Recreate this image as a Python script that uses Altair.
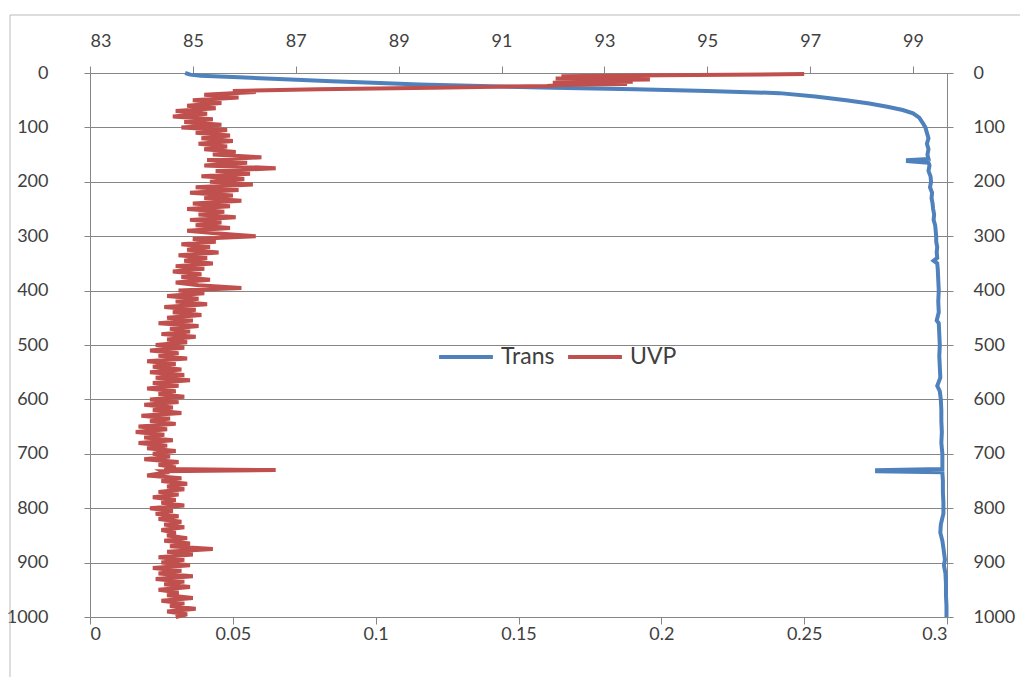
import altair as alt
import pandas as pd

# ---------------- data ----------------
trans_depth = [0, 3, 5, 8, 12, 15, 18, 21, 24, 27, 30, 33, 37, 43, 50, 56, 62, 68, 74, 82,
               92, 100, 110, 120, 130, 140, 150, 158, 160, 162, 165, 170, 180, 190, 200, 210,
               220, 230, 240, 250, 260, 270, 280, 290, 300, 310, 320, 330, 340, 345, 350, 360,
               380, 400, 420, 440, 455, 460, 480, 500, 520, 540, 560, 575, 585, 600, 620, 640,
               660, 680, 700, 720, 728, 730, 732, 734, 750, 770, 790, 810, 830, 845, 860, 880,
               895, 905, 920, 940, 960, 980, 1000]
trans_value = [84.85, 84.95, 85.15, 85.9, 86.9, 87.7, 88.5, 89.4, 90.6, 92.0, 93.6, 95.0, 96.4,
               97.1, 97.7, 98.15, 98.5, 98.8, 99.0, 99.12, 99.19, 99.24, 99.27, 99.3, 99.27,
               99.3, 99.28, 99.3, 98.9, 98.9, 99.3, 99.32, 99.3, 99.34, 99.35, 99.33, 99.37,
               99.36, 99.38, 99.39, 99.41, 99.4, 99.43, 99.44, 99.45, 99.45, 99.47, 99.46,
               99.47, 99.4, 99.47, 99.48, 99.49, 99.5, 99.49, 99.5, 99.46, 99.5, 99.51, 99.52,
               99.51, 99.52, 99.53, 99.47, 99.52, 99.54, 99.55, 99.55, 99.56, 99.55, 99.57,
               99.57, 99.57, 98.3, 98.3, 99.57, 99.58, 99.58, 99.59, 99.59, 99.54, 99.53,
               99.57, 99.6, 99.62, 99.6, 99.63, 99.64, 99.64, 99.65, 99.65]

uvp_depth = ([2, 4, 6, 8, 10, 12, 14, 16, 18, 20, 22, 24, 27, 30, 33]
             + list(range(35, 730, 5)) + [728, 730, 732] + list(range(735, 1001, 5)))
uvp_value = [0.25, 0.2, 0.165, 0.193, 0.163, 0.196, 0.166, 0.19, 0.162, 0.188, 0.165, 0.16,
             0.12, 0.08, 0.05,
             # 35 - 80
             0.058, 0.040, 0.052, 0.036, 0.046, 0.034, 0.044, 0.030, 0.041, 0.029,
             # 85 - 130
             0.043, 0.033, 0.046, 0.032, 0.048, 0.037, 0.049, 0.039, 0.050, 0.038,
             # 135 - 180
             0.048, 0.040, 0.051, 0.043, 0.060, 0.041, 0.055, 0.040, 0.065, 0.044,
             # 185 - 230
             0.056, 0.039, 0.054, 0.042, 0.057, 0.037, 0.052, 0.035, 0.050, 0.040,
             # 235 - 280
             0.053, 0.036, 0.049, 0.034, 0.047, 0.038, 0.051, 0.035, 0.046, 0.037,
             # 285 - 330
             0.049, 0.034, 0.045, 0.058, 0.036, 0.044, 0.032, 0.042, 0.034, 0.045,
             # 335 - 380
             0.031, 0.041, 0.033, 0.043, 0.030, 0.040, 0.029, 0.039, 0.032, 0.042,
             # 385 - 430
             0.030, 0.038, 0.053, 0.031, 0.040, 0.027, 0.038, 0.030, 0.041, 0.026,
             # 435 - 480
             0.037, 0.029, 0.039, 0.027, 0.036, 0.024, 0.038, 0.028, 0.035, 0.025,
             # 485 - 530
             0.037, 0.027, 0.034, 0.023, 0.033, 0.021, 0.031, 0.024, 0.034, 0.020,
             # 535 - 580
             0.030, 0.022, 0.032, 0.021, 0.033, 0.023, 0.035, 0.022, 0.031, 0.020,
             # 585 - 630
             0.030, 0.024, 0.033, 0.021, 0.031, 0.019, 0.029, 0.022, 0.032, 0.018,
             # 635 - 680
             0.028, 0.021, 0.030, 0.017, 0.027, 0.016, 0.026, 0.019, 0.029, 0.017,
             # 685 - 725
             0.027, 0.020, 0.030, 0.022, 0.028, 0.019, 0.031, 0.024, 0.030,
             # 728, 730, 732 (spike)
             0.026, 0.065, 0.025,
             # 735 - 780
             0.026, 0.020, 0.032, 0.025, 0.034, 0.027, 0.033, 0.024, 0.031, 0.022,
             # 785 - 830
             0.030, 0.025, 0.033, 0.021, 0.029, 0.023, 0.031, 0.024, 0.032, 0.026,
             # 835 - 880
             0.033, 0.025, 0.030, 0.027, 0.034, 0.026, 0.035, 0.028, 0.043, 0.027,
             # 885 - 930
             0.036, 0.024, 0.033, 0.025, 0.035, 0.022, 0.032, 0.024, 0.036, 0.023,
             # 935 - 980
             0.033, 0.026, 0.035, 0.024, 0.031, 0.027, 0.036, 0.025, 0.033, 0.028,
             # 985 - 1000
             0.037, 0.027, 0.034, 0.030]

series_names = ["Trans", "UVP"]
series_colors = ["#4F81BD", "#C0504D"]
top_ticks = [83, 85, 87, 89, 91, 93, 95, 97, 99]
bottom_ticks = [0, 0.05, 0.1, 0.15, 0.2, 0.25, 0.3]
depth_ticks = [0, 100, 200, 300, 400, 500, 600, 700, 800, 900, 1000]

trans_df = pd.DataFrame({"depth": trans_depth, "value": trans_value, "series": "Trans"})
uvp_df = pd.DataFrame({"depth": uvp_depth, "value": uvp_value, "series": "UVP"})

FONT = "Lato"
TXT = "#404040"
GRID = "#868686"

color = alt.Color(
    "series:N",
    scale=alt.Scale(domain=series_names, range=series_colors),
    legend=alt.Legend(
        orient="none", legendX=347, legendY=255, direction="horizontal", title=None,
        symbolType="stroke", symbolSize=2900, symbolStrokeWidth=4,
        labelFont=FONT, labelFontSize=23, labelColor=TXT, labelOffset=6,
        columnPadding=5,
    ),
)

yscale = alt.Scale(domain=[0, 1000], reverse=True, nice=False, zero=False)

common_axis = dict(labelFont=FONT, labelFontSize=18, labelColor=TXT, domainColor=GRID,
                   tickColor=GRID, title=None)

trans = alt.Chart(trans_df).mark_line(strokeWidth=4).encode(
    x=alt.X("value:Q", scale=alt.Scale(domain=[83, 99.66], nice=False, zero=False),
            axis=alt.Axis(orient="top", values=top_ticks, format="d", grid=False,
                          tickSize=7, labelPadding=16, **common_axis)),
    y=alt.Y("depth:Q", scale=yscale,
            axis=alt.Axis(orient="left", values=depth_ticks, format="d", grid=True,
                          gridColor=GRID, gridWidth=1, tickSize=6, labelPadding=36,
                          **common_axis)),
    order=alt.Order("depth:Q"),
    color=color,
)

uvp = alt.Chart(uvp_df).mark_line(strokeWidth=4).encode(
    x=alt.X("value:Q", scale=alt.Scale(domain=[0, 0.3], nice=False),
            axis=alt.Axis(orient="bottom", values=bottom_ticks, format="~g", grid=False,
                          tickSize=7, labelPadding=1, **common_axis)),
    y=alt.Y("depth:Q", scale=yscale,
            axis=alt.Axis(orient="right", values=depth_ticks, format="d", grid=False,
                          tickSize=6, labelPadding=20, **common_axis)),
    order=alt.Order("depth:Q"),
    color=color,
)

# chart-area frame (top and left edges visible in the reference)
frame_src = pd.DataFrame({"k": [0]})
frame_top = alt.Chart(frame_src).mark_rule(color="#BBBBBB", strokeWidth=1).encode(
    x=alt.value(-80), x2=alt.value(940), y=alt.value(-58)
)
frame_left = alt.Chart(frame_src).mark_rule(color="#BBBBBB", strokeWidth=1).encode(
    x=alt.value(-80), y=alt.value(-58), y2=alt.value(612)
)

chart = alt.layer(frame_top, frame_left, trans, uvp).resolve_scale(x="independent").resolve_axis(
    x="independent", y="independent"
).properties(
    width=857, height=544,
    autosize=alt.AutoSizeParams(type="none"),
    padding={"left": 82, "top": 65, "right": 73, "bottom": 60},
).configure_view(stroke=GRID, strokeWidth=1).configure(background="white")

chart.save("out.html", embed_options={"renderer": "svg", "actions": False})
